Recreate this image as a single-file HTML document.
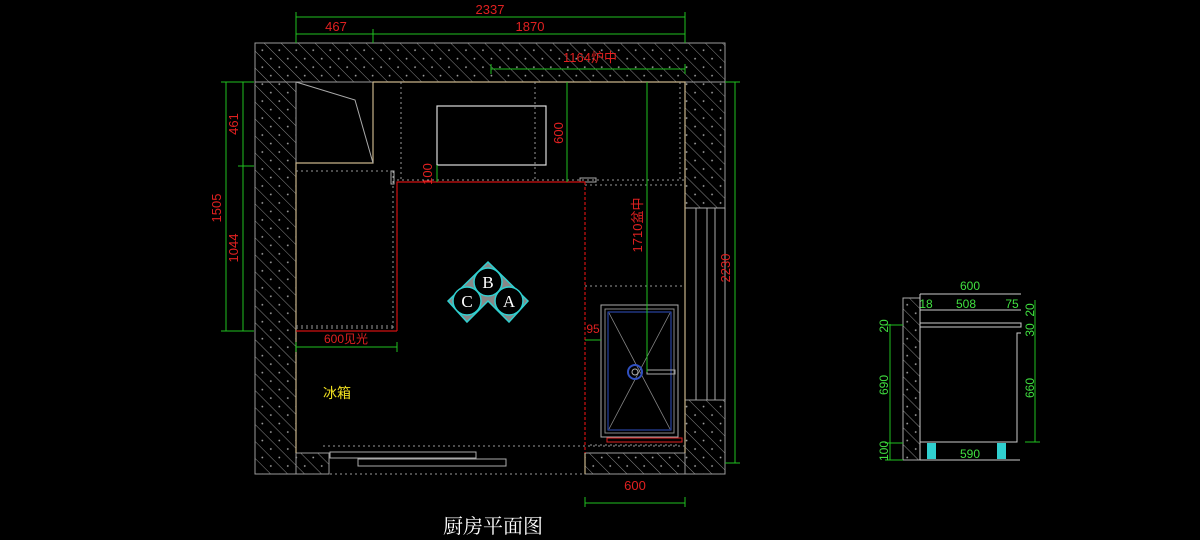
<!DOCTYPE html>
<html><head><meta charset="utf-8"><style>
html,body{margin:0;padding:0;background:#000;}
svg{display:block}
text{font-family:"Liberation Sans","Noto Sans CJK SC",sans-serif;}
</style></head><body>
<svg width="1200" height="540" viewBox="0 0 1200 540" xmlns="http://www.w3.org/2000/svg">
<defs>
<pattern id="h" width="12" height="12" patternUnits="userSpaceOnUse" patternTransform="rotate(-45)">
<line x1="0" y1="0" x2="0" y2="12" stroke="#9a9a9a" stroke-width="0.9"/>
<circle cx="6" cy="5" r="0.9" fill="#aaa"/>
</pattern>
</defs>
<rect width="1200" height="540" fill="#000"/>
<g fill="url(#h)" stroke="#9a9a9a" stroke-width="1">
<rect x="255" y="43" width="470" height="39"/>
<rect x="255" y="82" width="41" height="392"/>
<rect x="685" y="82" width="40" height="126"/>
<rect x="685" y="400" width="40" height="74"/>
<rect x="585" y="453" width="100" height="21"/>
<rect x="296" y="453" width="33" height="21"/>
</g>
<g stroke="#aaa" stroke-width="1" fill="none">
<line x1="696" y1="208" x2="696" y2="400"/>
<line x1="707" y1="208" x2="707" y2="400"/>
<line x1="715" y1="208" x2="715" y2="400"/>
<line x1="685" y1="208" x2="725" y2="208"/>
<line x1="725" y1="208" x2="725" y2="400"/>
</g>
<g stroke="#c8b48a" stroke-width="1.2" fill="none">
<polyline points="373,82 685,82 685,453"/>
<polyline points="373,82 373,163 296,163 296,453"/>
<line x1="585" y1="453" x2="585" y2="474"/>
</g>
<polyline points="296,82 355,100 373,163" stroke="#aaa" fill="none"/>
<g stroke="#999" stroke-width="1" stroke-dasharray="2,3" fill="none">
<line x1="401" y1="82" x2="401" y2="182"/>
<line x1="535" y1="82" x2="535" y2="182"/>
<line x1="296" y1="171" x2="390" y2="171"/>
<line x1="397" y1="180" x2="685" y2="180"/>
<line x1="585" y1="185" x2="685" y2="185"/>
<line x1="680" y1="82" x2="680" y2="180"/>
<line x1="585" y1="286" x2="685" y2="286"/>
<line x1="590" y1="445" x2="680" y2="445"/>
<line x1="323" y1="446" x2="685" y2="446"/>
<line x1="330" y1="474" x2="585" y2="474"/>
<line x1="296" y1="326" x2="393" y2="326"/>
<line x1="296" y1="328" x2="393" y2="328"/>
<line x1="393" y1="171" x2="393" y2="328"/>
</g>
<rect x="391" y="171" width="3" height="13" fill="none" stroke="#aaa"/>
<rect x="580" y="178" width="16" height="4" fill="none" stroke="#aaa"/>
<g stroke="#d01010" stroke-width="1.2" fill="none">
<polyline points="397,331 397,182 585,182"/>
<line x1="296" y1="331" x2="397" y2="331"/>
<line x1="585" y1="182" x2="585" y2="453" stroke-dasharray="3,2"/>
</g>
<rect x="437" y="106" width="109" height="59" fill="none" stroke="#ddd" stroke-width="1.2"/>
<rect x="330" y="452" width="146" height="6" fill="none" stroke="#aaa"/>
<rect x="358" y="459" width="148" height="7" fill="none" stroke="#aaa"/>
<rect x="601" y="305" width="77" height="132" fill="none" stroke="#aaa"/>
<rect x="605" y="309" width="69" height="124" fill="none" stroke="#888"/>
<rect x="608" y="312" width="63" height="118" fill="none" stroke="#3050c0"/>
<g stroke="#888" stroke-width="0.8"><line x1="609" y1="313" x2="670" y2="429"/><line x1="670" y1="313" x2="609" y2="429"/></g>
<circle cx="635" cy="372" r="7" fill="none" stroke="#3050c0" stroke-width="2"/>
<circle cx="635" cy="372" r="3" fill="none" stroke="#aaa"/>
<rect x="647" y="370" width="28" height="4" fill="none" stroke="#aaa"/>
<rect x="607" y="438" width="75" height="4" fill="none" stroke="#e02020"/>
<g stroke="#20c020" stroke-width="1" fill="none">
<line x1="296" y1="17" x2="685" y2="17"/><line x1="296" y1="12" x2="296" y2="43"/><line x1="685" y1="12" x2="685" y2="43"/>
<line x1="296" y1="34" x2="685" y2="34"/><line x1="373" y1="29" x2="373" y2="43"/>
<line x1="491" y1="69" x2="685" y2="69"/><line x1="491" y1="64" x2="491" y2="74"/><line x1="685" y1="64" x2="685" y2="74"/>
<line x1="226" y1="82" x2="226" y2="331"/><line x1="243" y1="82" x2="243" y2="331"/>
<line x1="221" y1="82" x2="254" y2="82"/><line x1="238" y1="166" x2="254" y2="166"/><line x1="221" y1="331" x2="254" y2="331"/>
<line x1="567" y1="82" x2="567" y2="182"/>
<line x1="437" y1="165" x2="437" y2="182"/>
<line x1="647" y1="82" x2="647" y2="372"/>
<line x1="735" y1="82" x2="735" y2="463"/><line x1="725" y1="82" x2="740" y2="82"/><line x1="725" y1="463" x2="740" y2="463"/>
<line x1="296" y1="347" x2="397" y2="347"/><line x1="296" y1="342" x2="296" y2="352"/><line x1="397" y1="342" x2="397" y2="352"/>
<line x1="585" y1="340" x2="601" y2="340"/>
<line x1="585" y1="503" x2="685" y2="503"/><line x1="585" y1="497" x2="585" y2="507"/><line x1="685" y1="497" x2="685" y2="507"/>
</g>
<g fill="#e02020" font-size="13">
<text x="490" y="14" text-anchor="middle">2337</text>
<text x="336" y="31" text-anchor="middle">467</text>
<text x="530" y="31" text-anchor="middle">1870</text>
<text x="590" y="62" text-anchor="middle">1164炉中</text>
<text x="0" y="0" text-anchor="middle" transform="translate(238,124) rotate(-90)">461</text>
<text x="0" y="0" text-anchor="middle" transform="translate(238,248) rotate(-90)">1044</text>
<text x="0" y="0" text-anchor="middle" transform="translate(221,208) rotate(-90)">1505</text>
<text x="0" y="0" text-anchor="middle" transform="translate(563,133) rotate(-90)">600</text>
<text x="0" y="0" text-anchor="middle" transform="translate(432,174) rotate(-90)">100</text>
<text x="0" y="0" text-anchor="middle" transform="translate(642,225) rotate(-90)">1710盆中</text>
<text x="0" y="0" text-anchor="middle" transform="translate(730,268) rotate(-90)">2230</text>
<text x="346" y="343" text-anchor="middle" font-size="12">600见光</text>
<text x="593" y="333" text-anchor="middle" font-size="12">95</text>
<text x="635" y="490" text-anchor="middle">600</text>
</g>
<text x="323" y="398" fill="#f0e020" font-size="14">冰箱</text>
<g>
<polygon points="488,262 528,301 509,322 488,301 467,322 448,301" fill="#888" stroke="#30d0d0" stroke-width="1.5"/>
<circle cx="488" cy="282" r="14" fill="#000" stroke="#30d0d0" stroke-width="1.5"/>
<circle cx="467" cy="301" r="14" fill="#000" stroke="#30d0d0" stroke-width="1.5"/>
<circle cx="509" cy="301" r="14" fill="#000" stroke="#30d0d0" stroke-width="1.5"/>
<g fill="#fff" font-size="17" text-anchor="middle">
<text x="488" y="288" style="font-family:'Liberation Serif',serif">B</text>
<text x="467" y="307" style="font-family:'Liberation Serif',serif">C</text>
<text x="509" y="307" style="font-family:'Liberation Serif',serif">A</text>
</g>
</g>
<text x="493" y="533" fill="#fff" font-size="20" text-anchor="middle" style="font-family:'Noto Serif CJK SC',serif">厨房平面图</text>
<rect x="903" y="298" width="17" height="162" fill="url(#h)" stroke="#aaa"/>
<g stroke="#ccc" stroke-width="1" fill="none">
<line x1="920" y1="294" x2="1021" y2="294"/>
<line x1="920" y1="310" x2="1021" y2="310"/>
<rect x="920" y="323" width="101" height="4"/>
<polyline points="920,327 920,442 1017,442 1017,333 1021,333"/>
<line x1="920" y1="460" x2="1020" y2="460"/>
<line x1="920" y1="294" x2="920" y2="460"/>
</g>
<g fill="#30d0d0"><rect x="927" y="443" width="9" height="16"/><rect x="997" y="443" width="9" height="16"/></g>
<g stroke="#20c020" fill="none">
<line x1="890" y1="324" x2="890" y2="460"/><line x1="885" y1="443" x2="903" y2="443"/><line x1="885" y1="460" x2="903" y2="460"/><line x1="885" y1="325" x2="903" y2="325"/>
<line x1="1035" y1="300" x2="1035" y2="442"/><line x1="1025" y1="442" x2="1040" y2="442"/>
</g>
<g fill="#40e040" font-size="12" text-anchor="middle">
<text x="970" y="290">600</text>
<text x="926" y="308">18</text><text x="966" y="308">508</text><text x="1012" y="308">75</text>
<text x="970" y="458">590</text>
<text transform="translate(888,326) rotate(-90)">20</text>
<text transform="translate(888,385) rotate(-90)">690</text>
<text transform="translate(888,451) rotate(-90)">100</text>
<text transform="translate(1034,310) rotate(-90)">20</text>
<text transform="translate(1034,330) rotate(-90)">30</text>
<text transform="translate(1034,388) rotate(-90)">660</text>
</g>
</svg>
</body></html>
